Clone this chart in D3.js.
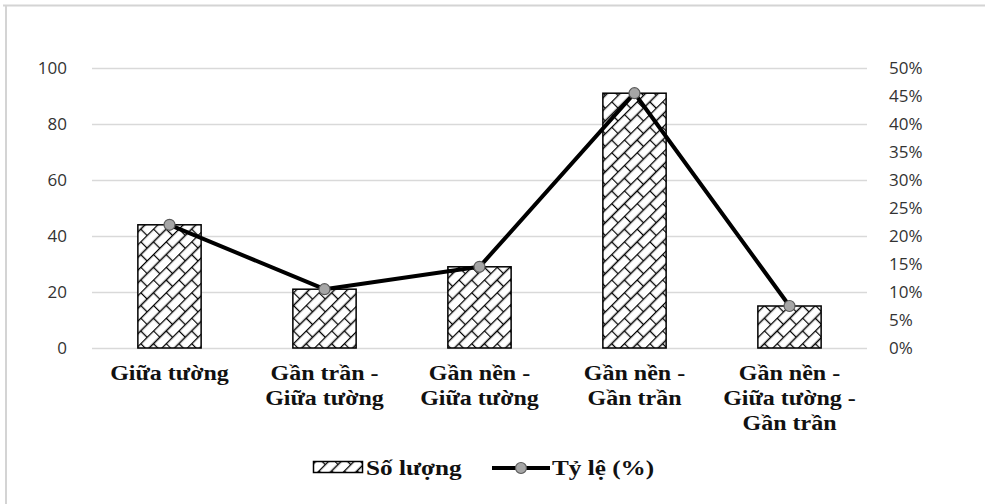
<!DOCTYPE html>
<html>
<head>
<meta charset="utf-8">
<script src="https://cdn.jsdelivr.net/npm/d3@7"></script>
<style>
  html, body { margin: 0; padding: 0; background: #fff; }
  svg { display: block; }
</style>
</head>
<body>
<svg id="chart" width="985" height="504"></svg>
<script>
// ---- data ----
const categories = [
  ["Giữa tường"],
  ["Gần trần -", "Giữa tường"],
  ["Gần nền -", "Giữa tường"],
  ["Gần nền -", "Gần trần"],
  ["Gần nền -", "Giữa tường -", "Gần trần"]
];
const counts = [44, 21, 29, 91, 15];
const percents = [22, 10.5, 14.5, 45.5, 7.5];
const leftTicks = [0, 20, 40, 60, 80, 100];
const rightTicks = [0, 5, 10, 15, 20, 25, 30, 35, 40, 45, 50];
const seriesNames = ["Số lượng", "Tỷ lệ (%)"];

// ---- layout ----
const svg = d3.select("#chart");
const plot = { left: 92, right: 867, top: 68, bottom: 348 };
const sansFont = "'Open Sans', 'Noto Sans', sans-serif";
const serifFont = "'Liberation Serif', 'Times New Roman', serif";

function stretch(sel, sx) {
  sel.each(function () {
    const t = d3.select(this);
    const x = +t.attr("x") || 0;
    t.attr("transform", `translate(${x},0) scale(${sx},1) translate(${-x},0)`);
  });
}

// border (top + left)
svg.append("line").attr("x1", 3).attr("x2", 985).attr("y1", 5.5).attr("y2", 5.5)
  .attr("stroke", "#d4d4d4").attr("stroke-width", 2);
svg.append("line").attr("x1", 6).attr("x2", 6).attr("y1", 5).attr("y2", 504)
  .attr("stroke", "#d4d4d4").attr("stroke-width", 2);

// pattern
const defs = svg.append("defs");
const pat = defs.append("pattern").attr("id", "hatch")
  .attr("patternUnits", "userSpaceOnUse")
  .attr("width", 18).attr("height", 18)
  .attr("patternTransform", "rotate(-45)");
pat.append("rect").attr("width", 18).attr("height", 18).attr("fill", "#fff");
pat.append("path")
  .attr("d", "M0,0.5 H18 M0,9.5 H18 M0.5,0 V9.5 M9.5,9.5 V18")
  .attr("stroke", "#000").attr("stroke-width", 1.3).attr("fill", "none");

// scales
const x = d3.scaleBand().domain(d3.range(categories.length))
  .range([plot.left, plot.right]).paddingInner(1 - 1 / 2.45).paddingOuter((1 - 1 / 2.45) / 2);
const yL = d3.scaleLinear().domain([0, 100]).range([plot.bottom, plot.top]);
const yR = d3.scaleLinear().domain([0, 50]).range([plot.bottom, plot.top]);

// gridlines
svg.append("g").selectAll("line").data(leftTicks).join("line")
  .attr("x1", plot.left).attr("x2", plot.right)
  .attr("y1", d => yL(d) + 0.5).attr("y2", d => yL(d) + 0.5)
  .attr("stroke", "#d9d9d9").attr("stroke-width", 1.3);

// left axis
const gl = svg.append("g").attr("transform", `translate(${plot.left - 25},0)`)
  .call(d3.axisLeft(yL).tickValues(leftTicks).tickSize(0).tickPadding(0));
gl.select(".domain").remove();
gl.selectAll("text").attr("font-family", sansFont).attr("font-size", 17)
  .attr("fill", "#333").attr("dy", "0.35em");

// right axis
const gr = svg.append("g").attr("transform", `translate(${plot.right + 22},0)`)
  .call(d3.axisRight(yR).tickValues(rightTicks).tickSize(0).tickPadding(0)
    .tickFormat(d => d + "%"));
gr.select(".domain").remove();
gr.selectAll("text").attr("font-family", sansFont).attr("font-size", 17)
  .attr("fill", "#333").attr("dy", "0.35em");

// bars
svg.append("g").selectAll("rect").data(counts).join("rect")
  .attr("x", (d, i) => x(i)).attr("width", x.bandwidth())
  .attr("y", d => yL(d)).attr("height", d => yL(0) - yL(d))
  .attr("fill", "url(#hatch)").attr("stroke", "#000").attr("stroke-width", 1.5);

// line
const cx = i => x(i) + x.bandwidth() / 2;
svg.append("path").datum(percents)
  .attr("d", d3.line().x((d, i) => cx(i)).y(d => yR(d)))
  .attr("fill", "none").attr("stroke", "#000").attr("stroke-width", 4)
  .attr("stroke-linejoin", "round");
svg.append("g").selectAll("circle").data(percents).join("circle")
  .attr("cx", (d, i) => cx(i)).attr("cy", d => yR(d)).attr("r", 5.5)
  .attr("fill", "#a6a6a6").attr("stroke", "#595959").attr("stroke-width", 1.2);

// category labels
const cat = svg.append("g");
categories.forEach((lines, i) => {
  lines.forEach((ln, j) => {
    cat.append("text").attr("x", cx(i)).attr("y", 380 + j * 25)
      .attr("text-anchor", "middle").attr("font-family", serifFont)
      .attr("font-weight", "bold").attr("font-size", 20).attr("fill", "#111")
      .text(ln);
  });
});
stretch(cat.selectAll("text"), 1.2);

// legend
const lg = svg.append("g");
lg.append("rect").attr("x", 313.5).attr("y", 461.5).attr("width", 49).attr("height", 11)
  .attr("fill", "url(#hatch)").attr("stroke", "#000").attr("stroke-width", 1.5);
const t1 = lg.append("text").attr("x", 366).attr("y", 475)
  .attr("font-family", serifFont).attr("font-weight", "bold").attr("font-size", 21)
  .attr("fill", "#111").text(seriesNames[0]);
lg.append("line").attr("x1", 492).attr("x2", 550).attr("y1", 468).attr("y2", 468)
  .attr("stroke", "#000").attr("stroke-width", 4);
lg.append("circle").attr("cx", 521).attr("cy", 468).attr("r", 5.5)
  .attr("fill", "#a6a6a6").attr("stroke", "#595959").attr("stroke-width", 1.2);
const t2 = lg.append("text").attr("x", 552).attr("y", 475)
  .attr("font-family", serifFont).attr("font-weight", "bold").attr("font-size", 21)
  .attr("fill", "#111").text(seriesNames[1]);
stretch(lg.selectAll("text"), 1.2);
</script>
</body>
</html>
